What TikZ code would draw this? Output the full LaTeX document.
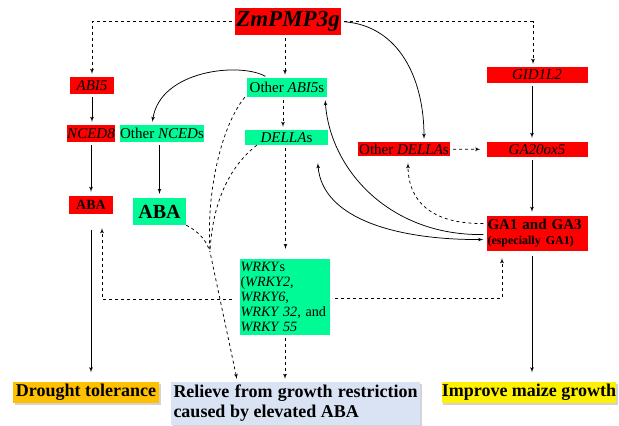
\documentclass[tikz,border=0pt]{standalone}
\usepackage{fontspec}
\setmainfont{Liberation Serif}
\usepackage{tikz}
\usetikzlibrary{shapes,arrows,shadows}
\definecolor{mint}{RGB}{0,250,150}
\definecolor{amber}{RGB}{255,192,0}
\definecolor{paleblue}{RGB}{218,227,243}
\tikzstyle{redbox} = [rectangle, fill=red, inner sep=0pt,
    font=\fontsize{15}{15}\selectfont]
\tikzstyle{greenbox} = [rectangle, fill=mint, inner sep=0pt,
    font=\fontsize{15}{15}\selectfont]
\tikzstyle{outcome} = [rectangle, inner sep=0pt, minimum height=21pt,
    font=\fontsize{18}{20}\selectfont\bfseries,
    drop shadow={shadow xshift=1.5pt, shadow yshift=-2pt, opacity=.35}]
\tikzstyle{line} = [draw, line width=0.75pt, -latex', shorten >=3pt, shorten <=3pt]
\tikzstyle{dline} = [line, dashed]
\tikzstyle{dcurve} = [draw, line width=0.75pt, dashed]

\begin{document}
\begin{tikzpicture}[x=1pt, y=-1pt]
    \useasboundingbox (0,0) rectangle (619,426);
    % Place nodes
    \node [redbox, minimum width=106pt, minimum height=27pt,
        font=\fontsize{23}{24}\selectfont\bfseries\itshape] (zm) at (288,21.5) {ZmPMP3g};
    \node [redbox, minimum width=44pt, minimum height=17pt] (abi5) at (92,85.5) {\textit{ABI5}};
    \node [redbox, minimum width=48pt, minimum height=17pt] (nced8) at (91,133.5) {\textit{NCED8}};
    \node [greenbox, minimum width=84pt, minimum height=17pt] (onced) at (162,133.5) {Other \textit{NCED}s};
    \node [redbox, minimum width=44pt, minimum height=18pt,
        font=\fontsize{14}{14}\selectfont\bfseries] (abar) at (91,205) {ABA};
    \node [greenbox, minimum width=53pt, minimum height=27pt,
        font=\fontsize{20}{22}\selectfont\bfseries] (abag) at (159.5,211.5) {ABA};
    \node [greenbox, minimum width=80pt, minimum height=19pt] (oabi) at (287,87.5) {Other \textit{ABI5}s};
    \node [greenbox, minimum width=83pt, minimum height=15pt] (della) at (286.5,137.5) {\textit{DELLA}s};
    \node [redbox, minimum width=92pt, minimum height=14pt] (odella) at (404,149) {Other \textit{DELLA}s};
    \node [redbox, minimum width=101pt, minimum height=16pt] (gid) at (537,75) {\textit{GID1L2}};
    \node [redbox, minimum width=101pt, minimum height=15pt] (ga20) at (537,149.5) {\textit{GA20ox5}};
    \node [redbox, text width=99pt, minimum height=35pt, inner xsep=1pt, align=left,
        font=\fontsize{15}{17}\selectfont\bfseries] (ga1) at (537,233.5)
        {GA1 and GA3\\[-2pt]{\fontsize{12}{13}\selectfont (especially GA1)}};
    \node [greenbox, text width=89pt, minimum height=76pt, inner xsep=0.5pt, align=left,
        font=\fontsize{14.2}{15}\selectfont] (wrky) at (285,297)
        {\textit{WRKY}s\\(\textit{WRKY2},\\\textit{WRKY6},\\\textit{WRKY 32}, and\\\textit{WRKY 55}};
    \node [outcome, fill=amber, minimum width=146pt] (drought) at (86,392) {Drought tolerance};
    \node [outcome, fill=paleblue, text width=244pt, minimum height=43pt, inner xsep=2.5pt,
        align=justify] (relieve) at (295.5,403.5)
        {Relieve from growth restriction\linebreak caused by elevated ABA};
    \node [outcome, fill=yellow, minimum width=174pt] (improve) at (529,392) {Improve maize growth};

    % Draw edges
    \path [dline] (zm.west) -| (abi5.north);
    \path [dline] (zm.east) -| ([xshift=-4pt]gid.north);
    \path [dline] ([xshift=-3pt]zm.south) -- ([xshift=-3pt]zm.south |- oabi.north);
    \path [line] (zm.east) .. controls (400,26) and (424,80) .. ([xshift=20pt]odella.north);
    \path [line] (abi5.south) -- (abi5.south |- nced8.north);
    \path [line, shorten >=4pt] (nced8.south) -- (nced8.south |- abar.north);
    \path [line, shorten >=4pt] (abag.north |- onced.south) -- (abag.north);
    \path [line, shorten <=16pt, shorten >=9pt] (abar.south) -- (abar.south |- drought.north);
    \path [line] ([xshift=-19pt]oabi.north) .. controls (240,62) and (160,70) .. ([xshift=-10pt]onced.north);
    \path [dline] ([xshift=-4pt]oabi.south) -- ([xshift=-4pt]oabi.south |- della.north);
    \path [dline, shorten >=10pt] ([xshift=-1pt]della.south) -- ([xshift=-1pt]della.south |- wrky.north);
    \path [dline] (wrky.south) -- (wrky.south |- relieve.north);
    \path [dline, shorten <=8pt, shorten >=14pt] ([yshift=-2pt]wrky.west) -| ([xshift=11pt]abar.south);
    \path [dline, shorten <=5pt, shorten >=7pt] ([yshift=-1pt]wrky.east) -| ([xshift=-35pt]ga1.south);
    \path [line, shorten >=4pt] ([xshift=-5pt]gid.south) -- ([xshift=-5pt]ga20.north);
    \path [line, shorten >=4pt] ([xshift=-5pt]ga20.south) -- ([xshift=-5pt]ga1.north);
    \path [line, shorten <=5pt, shorten >=9pt] ([xshift=-5pt]ga1.south) -- ([xshift=-5pt]ga1.south |- improve.north);
    \path [dline, shorten >=6pt] (odella) -- (ga20);
    \path [line] ([yshift=-1pt]ga1.west) .. controls (390,236) and (330,170) .. ([xshift=38pt]oabi.south);
    \path [line, latex'-latex', shorten <=18pt] ([xshift=30pt]della.south) .. controls (322,220) and (400,240) .. ([yshift=-6pt]ga1.west);
    \path [dline, shorten >=7pt] ([yshift=10pt]ga1.west) .. controls (430,224) and (408,200) .. ([xshift=4pt]odella.south);
    % dashed curves into the relief box
    \coordinate (join) at (210,252);
    \path [dcurve] ([xshift=-2pt]oabi.south west) .. controls (222,125) and (206,190) .. (join);
    \path [dcurve] ([xshift=12pt]della.south west) .. controls (225,170) and (212,210) .. (join);
    \path [dcurve] (abag.south east) .. controls (200,232) and (207,242) .. (join);
    \path [dline] (join) -- ([xshift=-58pt]relieve.north);
\end{tikzpicture}
\end{document}
